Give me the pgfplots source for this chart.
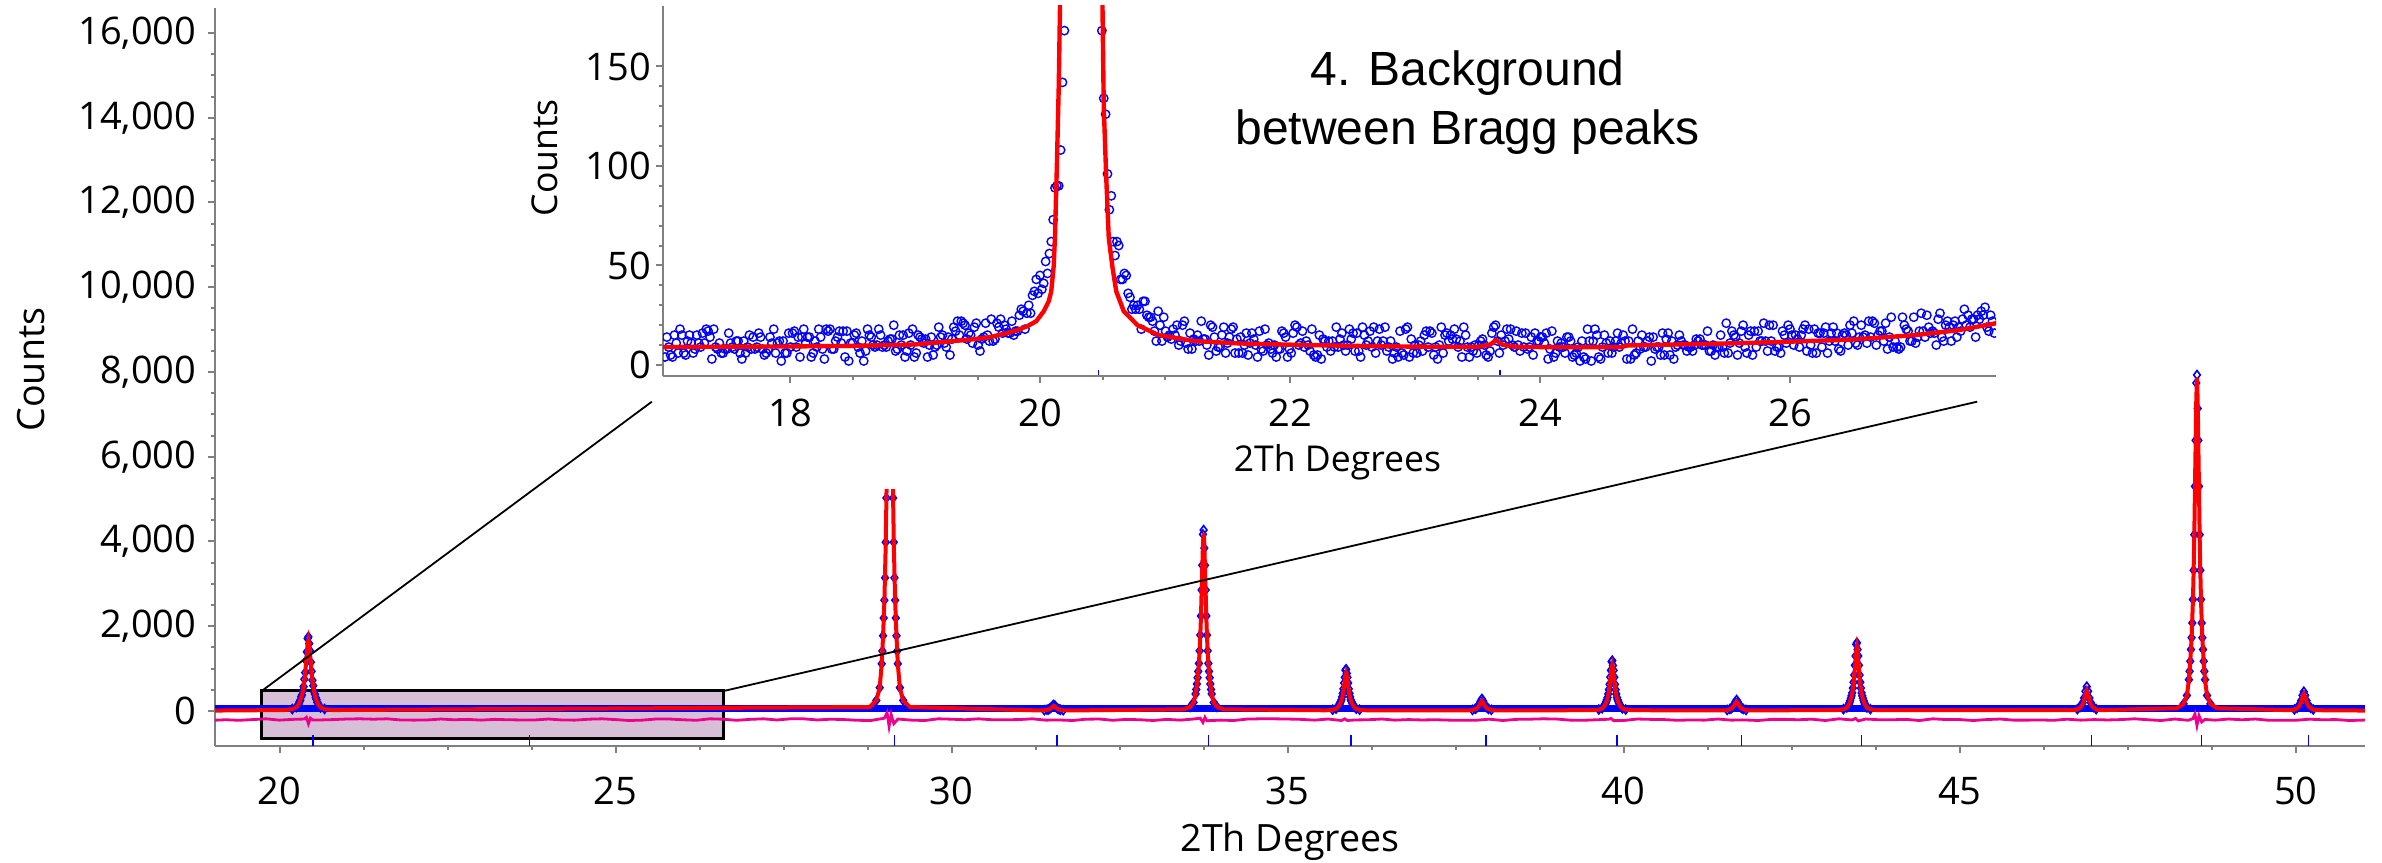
\documentclass[border=0pt]{standalone}
\usepackage{fontspec}
\setmainfont{Open Sans}
\newfontfamily\arialfont{Liberation Sans}
\usepackage{pgfplots}
\pgfplotsset{compat=1.18}
\definecolor{thistle}{RGB}{216,191,216}
\definecolor{axgray}{RGB}{128,128,128}

\begin{document}
\begin{tikzpicture}
\pgfplotsset{
  xrd/.style={
    scale only axis,
    axis x line*=bottom, axis y line*=left,
    axis line style={axgray, line width=0.5pt},
    tick style={axgray, line width=0.5pt},
    tick align=outside,
    major tick length=1.75pt, minor tick length=1pt,
    /pgf/number format/assume math mode=true,
    /pgf/number format/1000 sep={,},
    scaled ticks=false,
    tick label style={font=\fontsize{9.5}{10}\selectfont, text=black},
    clip marker paths=true,
  },
  obsmark/.style={only marks, mark=o, mark size=1.05pt, mark options={blue, line width=0.35pt}},
}

% ---- main pattern ----
\begin{axis}[xrd,
    at={(53.75pt,29.25pt)}, anchor=south west,
    width=537.5pt, height=184.5pt,
    xmin=19.04, xmax=51.03, ymin=-826, ymax=16590,
    xtick={20,25,...,50}, minor x tick num=3,
    ytick={0,2000,...,16000}, minor y tick num=3,
    xticklabel style={anchor=center, inner sep=0pt, yshift=-9.6pt},
    yticklabel style={anchor=east, inner sep=0pt, xshift=-2.7pt},
    xlabel={2Th Degrees}, ylabel={Counts},
    label style={font=\fontsize{9.4}{11}\selectfont},
    xlabel style={at={([yshift=-24pt]axis description cs:0.5,0)}, anchor=center},
    ylabel style={at={([xshift=-46pt]axis description cs:0,0.51)}, anchor=center},
]
% zoom window
\draw[fill=thistle, line width=0.75pt] (axis cs:19.735,-661) rectangle (axis cs:26.61,472);

% observed, baseline band
\addplot[blue, line width=1.7pt] coordinates {(19.04,60) (51.03,60)};

% observed, points on the peaks
\addplot[only marks, mark=diamond, mark size=1.1pt, mark options={blue, line width=0.4pt}] coordinates {
(20.19,45)(20.25,92)(20.286,165)(20.298,220)(20.31,258)(20.322,335)(20.334,380)(20.346,475)(20.358,575)(20.37,750)
(20.382,905)(20.394,1190)(20.406,1395)(20.418,1708)(20.43,1750)(20.442,1590)(20.454,1420)(20.466,1150)(20.478,935)(20.49,725)
(20.502,596)(20.514,455)(20.526,395)(20.538,320)(20.55,272)(20.562,208)(20.574,175)(20.61,84)(20.67,47)
(28.88,250)(28.93,550)(28.96,1114)(28.97,1414)(28.98,1774)(28.99,2194)(29.00,2614)(29.01,3142)(29.02,3982)(29.03,5026)
(29.04,6298)(29.05,8026)(29.06,9670)(29.07,11722)(29.08,12010)(29.09,10810)(29.10,9670)(29.11,8026)(29.12,6298)(29.13,5026)
(29.14,3982)(29.15,3142)(29.16,2614)(29.17,2194)(29.18,1774)(29.19,1414)(29.20,1114)(29.23,550)(29.28,250)
(31.38,18)(31.42,30)(31.44,39)(31.46,55)(31.48,81)(31.50,119)(31.52,145)(31.54,119)(31.56,81)(31.58,55)(31.60,39)(31.62,30)(31.66,18)
(33.55,95)(33.60,202)(33.63,402)(33.64,508)(33.65,636)(33.66,785)(33.67,934)(33.68,1122)(33.69,1420)(33.70,1791)
(33.71,2242)(33.72,2856)(33.73,3439)(33.74,4168)(33.75,4270)(33.76,3844)(33.77,3439)(33.78,2856)(33.79,2242)(33.80,1791)
(33.81,1420)(33.82,1122)(33.83,934)(33.84,785)(33.85,636)(33.86,508)(33.87,402)(33.90,202)(33.95,95)
(35.67,30)(35.72,54)(35.75,100)(35.76,124)(35.77,153)(35.78,187)(35.79,222)(35.80,264)(35.81,333)(35.82,418)
(35.83,521)(35.84,661)(35.85,795)(35.86,962)(35.87,985)(35.88,888)(35.89,795)(35.90,661)(35.91,521)(35.92,418)
(35.93,333)(35.94,264)(35.95,222)(35.96,187)(35.97,153)(35.98,124)(35.99,100)(36.02,54)(36.07,30)
(37.75,26)(37.79,50)(37.81,70)(37.83,101)(37.85,154)(37.87,231)(37.89,285)(37.91,231)(37.93,154)(37.95,101)(37.97,70)(37.99,50)(38.03,26)
(39.63,34)(39.68,63)(39.71,119)(39.72,148)(39.73,183)(39.74,225)(39.75,266)(39.76,318)(39.77,401)(39.78,503)
(39.79,628)(39.80,798)(39.81,960)(39.82,1162)(39.83,1190)(39.84,1072)(39.85,960)(39.86,798)(39.87,628)(39.88,503)
(39.89,401)(39.90,318)(39.91,266)(39.92,225)(39.93,183)(39.94,148)(39.95,119)(39.98,63)(40.03,34)
(41.54,24)(41.58,47)(41.60,64)(41.62,93)(41.64,141)(41.66,211)(41.68,260)(41.70,211)(41.72,141)(41.74,93)(41.76,64)(41.78,47)(41.82,24)
(43.27,42)(43.32,82)(43.35,157)(43.36,197)(43.37,245)(43.38,301)(43.39,357)(43.40,428)(43.41,540)(43.42,679)
(43.43,848)(43.44,1079)(43.45,1298)(43.46,1572)(43.47,1610)(43.48,1450)(43.49,1298)(43.50,1079)(43.51,848)(43.52,679)
(43.53,540)(43.54,428)(43.55,357)(43.56,301)(43.57,245)(43.58,197)(43.59,157)(43.62,82)(43.67,42)
(46.75,42)(46.79,93)(46.81,133)(46.83,197)(46.85,306)(46.87,465)(46.89,575)(46.91,465)(46.93,306)(46.95,197)(46.97,133)(46.99,93)(47.03,42)
(48.33,168)(48.38,366)(48.41,739)(48.42,937)(48.43,1174)(48.44,1451)(48.45,1729)(48.46,2077)(48.47,2632)(48.48,3321)
(48.49,4160)(48.50,5301)(48.51,6386)(48.52,7740)(48.53,7930)(48.54,7138)(48.55,6386)(48.56,5301)(48.57,4160)(48.58,3321)
(48.59,2632)(48.60,2077)(48.61,1729)(48.62,1451)(48.63,1174)(48.64,937)(48.65,739)(48.68,366)(48.73,168)
(49.98,35)(50.02,75)(50.04,107)(50.06,157)(50.08,243)(50.10,368)(50.12,455)(50.14,368)(50.16,243)(50.18,157)(50.20,107)(50.22,75)(50.26,35)
};

% calculated
\addplot[red, line width=1pt] coordinates {
(19.04,10)
(20.07,22)(20.19,43)(20.25,85)(20.286,163)(20.31,255)(20.334,371)(20.358,561)(20.37,706)(20.382,882)(20.394,1122)
(20.406,1350)(20.418,1575)(20.43,1675)(20.442,1575)(20.454,1350)(20.466,1122)(20.478,882)(20.49,706)(20.502,561)(20.526,371)
(20.55,255)(20.574,163)(20.61,85)(20.67,43)(20.79,22)
(28.78,93)(28.88,248)(28.93,546)(28.96,1105)(28.98,1759)(29.00,2592)(29.02,3949)(29.03,4984)(29.04,6246)(29.05,7959)
(29.06,9590)(29.07,11196)(29.08,11910)(29.09,11196)(29.10,9590)(29.11,7959)(29.12,6246)(29.13,4984)(29.14,3949)(29.16,2592)
(29.18,1759)(29.20,1105)(29.23,546)(29.28,248)(29.38,93)
(31.32,12)(31.37,15)(31.42,26)(31.44,34)(31.46,46)(31.48,68)(31.50,99)(31.52,120)(31.54,99)(31.56,68)(31.58,46)(31.60,34)(31.62,26)(31.67,15)(31.72,12)
(33.45,39)(33.55,94)(33.60,199)(33.63,395)(33.65,626)(33.67,919)(33.69,1397)(33.70,1761)(33.71,2206)(33.72,2809)
(33.73,3383)(33.74,3949)(33.75,4200)(33.76,3949)(33.77,3383)(33.78,2809)(33.79,2206)(33.80,1761)(33.81,1397)(33.83,919)
(33.85,626)(33.87,395)(33.90,199)(33.95,94)(34.05,39)
(35.57,16)(35.67,28)(35.72,50)(35.75,91)(35.77,140)(35.79,202)(35.81,303)(35.82,380)(35.83,474)(35.84,601)
(35.85,722)(35.86,842)(35.87,895)(35.88,842)(35.89,722)(35.90,601)(35.91,474)(35.92,380)(35.93,303)(35.95,202)
(35.97,140)(35.99,91)(36.02,50)(36.07,28)(36.17,16)
(37.69,15)(37.74,20)(37.79,44)(37.81,60)(37.83,86)(37.85,131)(37.87,195)(37.89,240)(37.91,195)(37.93,131)(37.95,86)(37.97,60)(37.99,44)(38.04,20)(38.09,15)
(39.53,18)(39.63,32)(39.68,58)(39.71,109)(39.73,168)(39.75,243)(39.77,366)(39.78,459)(39.79,573)(39.80,728)
(39.81,875)(39.82,1021)(39.83,1085)(39.84,1021)(39.85,875)(39.86,728)(39.87,573)(39.88,459)(39.89,366)(39.91,243)
(39.93,168)(39.95,109)(39.98,58)(40.03,32)(40.13,18)
(41.48,14)(41.53,19)(41.58,41)(41.60,56)(41.62,80)(41.64,120)(41.66,179)(41.68,220)(41.70,179)(41.72,120)(41.74,80)(41.76,56)(41.78,41)(41.83,19)(41.88,14)
(43.17,21)(43.27,40)(43.32,78)(43.35,148)(43.37,231)(43.39,337)(43.41,508)(43.42,639)(43.43,799)(43.44,1015)
(43.45,1222)(43.46,1425)(43.47,1515)(43.48,1425)(43.49,1222)(43.50,1015)(43.51,799)(43.52,639)(43.53,508)(43.55,337)
(43.57,231)(43.59,148)(43.62,78)(43.67,40)(43.77,21)
(46.69,19)(46.74,31)(46.79,79)(46.81,112)(46.83,166)(46.85,256)(46.87,388)(46.89,480)(46.91,388)(46.93,256)(46.95,166)(46.97,112)(46.99,79)(47.04,31)(47.09,19)
(48.23,65)(48.33,167)(48.38,363)(48.41,732)(48.43,1164)(48.45,1713)(48.47,2608)(48.48,3291)(48.49,4123)(48.50,5254)
(48.51,6329)(48.52,7389)(48.53,7860)(48.54,7389)(48.55,6329)(48.56,5254)(48.57,4123)(48.58,3291)(48.59,2608)(48.61,1713)
(48.63,1164)(48.65,732)(48.68,363)(48.73,167)(48.83,65)
(49.92,18)(49.97,28)(50.02,67)(50.04,95)(50.06,139)(50.08,214)(50.10,324)(50.12,400)(50.14,324)(50.16,214)(50.18,139)(50.20,95)(50.22,67)(50.27,28)(50.32,18)
(51.03,10)
};

% difference
\addplot[magenta, line width=0.7pt] coordinates {
(19.0,-220)(19.2,-207)(19.4,-220)(19.6,-203)(19.8,-185)(20.0,-216)(20.2,-198)
(20.37,-190)(20.40,-150)(20.43,-300)(20.46,-170)(20.50,-215)
(20.6,-212)(20.8,-203)(21.0,-190)(21.2,-185)(21.4,-194)(21.6,-185)(21.8,-212)(22.0,-216)(22.2,-212)(22.4,-190)
(22.6,-207)(22.8,-198)(23.0,-216)(23.2,-198)(23.4,-207)(23.6,-212)(23.8,-212)(24.0,-190)(24.2,-212)(24.4,-216)
(24.6,-194)(24.8,-185)(25.0,-203)(25.2,-225)(25.4,-216)(25.6,-190)(25.8,-190)(26.0,-207)(26.2,-220)(26.4,-185)
(26.6,-194)(26.8,-220)(27.0,-198)(27.2,-185)(27.4,-212)(27.6,-185)(27.8,-185)(28.0,-212)(28.2,-194)(28.4,-203)
(28.6,-220)(28.8,-225)
(29.00,-170)(29.04,-40)(29.07,-360)(29.10,-80)(29.14,-300)(29.20,-190)
(29.4,-216)(29.6,-225)(29.8,-185)(30.0,-194)(30.2,-207)(30.4,-185)(30.6,-207)(30.8,-207)(31.0,-203)(31.2,-185)
(31.4,-216)(31.6,-212)(31.8,-225)(32.0,-194)(32.2,-190)(32.4,-220)(32.6,-198)(32.8,-207)(33.0,-225)(33.2,-198)
(33.4,-216)(33.6,-190)
(33.70,-170)(33.74,-270)(33.77,-150)(33.80,-230)
(34.0,-216)(34.2,-225)(34.4,-190)(34.6,-185)(34.8,-185)(35.0,-190)(35.2,-198)(35.4,-216)(35.6,-190)(35.8,-225)
(35.85,-185)(35.89,-225)
(36.0,-212)(36.2,-207)(36.4,-190)(36.6,-216)(36.8,-203)(37.0,-212)(37.2,-207)(37.4,-216)(37.6,-220)(37.8,-220)
(38.0,-194)(38.2,-225)(38.4,-198)(38.6,-194)(38.8,-185)(39.0,-190)(39.2,-216)(39.4,-220)(39.6,-207)
(39.78,-195)(39.81,-175)(39.85,-228)
(40.0,-225)(40.2,-190)(40.4,-198)(40.6,-203)(40.8,-220)(41.0,-212)(41.2,-216)(41.4,-190)(41.6,-216)(41.8,-212)
(42.0,-225)(42.2,-198)(42.4,-198)(42.6,-207)(42.8,-194)(43.0,-225)(43.2,-185)(43.4,-212)
(43.45,-175)(43.49,-235)
(43.6,-190)(43.8,-207)(44.0,-207)(44.2,-198)(44.4,-225)(44.6,-185)(44.8,-203)(45.0,-203)(45.2,-225)(45.4,-203)
(45.6,-190)(45.8,-216)(46.0,-216)(46.2,-212)(46.4,-220)(46.6,-194)(46.8,-216)(47.0,-203)(47.2,-212)(47.4,-203)
(47.6,-185)(47.8,-207)(48.0,-225)(48.2,-190)(48.4,-220)
(48.47,-180)(48.50,-70)(48.53,-340)(48.56,-110)(48.60,-260)(48.65,-200)
(48.8,-216)(49.0,-190)(49.2,-207)(49.4,-190)(49.6,-220)(49.8,-220)(50.0,-220)(50.2,-194)(50.4,-207)(50.6,-203)
(50.8,-225)(51.0,-216)(51.2,-190)
};

% reflection positions
\addplot[only marks, mark=|, mark size=1.4pt, mark options={blue, line width=0.4pt}] coordinates {
(20.50,-696)(23.72,-696)(29.15,-696)(31.57,-696)(33.82,-696)(35.94,-696)(37.95,-696)
(39.90,-696)(41.75,-696)(43.54,-696)(46.96,-696)(48.60,-696)(50.19,-696)
};

% white area behind the inset
\fill[white] (axis cs:23.58,5239) rectangle (axis cs:45.75,17000);
% connecting lines
\draw[black, line width=0.45pt] (axis cs:19.735,472) -- (axis cs:25.54,7299);
\draw[black, line width=0.45pt] (axis cs:26.61,472) -- (axis cs:45.26,7299);
\end{axis}

% ---- inset ----
\begin{axis}[xrd,
    at={(165.75pt,121.75pt)}, anchor=south west,
    width=333.25pt, height=92.5pt,
    xmin=16.984, xmax=27.648, ymin=-5.53, ymax=180.4,
    xtick={18,20,...,26}, minor x tick num=3,
    ytick={0,50,100,150}, minor y tick num=4,
    xticklabel style={anchor=center, inner sep=0pt, yshift=-7.5pt},
    yticklabel style={anchor=east, inner sep=0pt, xshift=-1.05pt},
    xlabel={2Th Degrees}, ylabel={Counts},
    label style={font=\fontsize{8.9}{10.5}\selectfont},
    xlabel style={at={([yshift=-21.5pt]axis description cs:0.506,0)}, anchor=center},
    ylabel style={at={([xshift=-29.5pt]axis description cs:0,0.59)}, anchor=center},
]
\addplot[obsmark] coordinates {
(17.00,4)(17.03,9)(17.06,4)(17.09,11)(17.12,18)(17.15,6)(17.18,12)(17.21,11)(17.24,8)(17.27,11)
(17.30,16)(17.33,18)(17.36,14)(17.39,18)(17.42,8)(17.45,6)(17.48,8)(17.51,16)(17.54,9)(17.57,12)
(17.60,6)(17.63,12)(17.66,9)(17.69,8)(17.72,8)(17.75,16)(17.78,8)(17.81,6)(17.84,14)(17.87,18)
(17.90,11)(17.93,2)(17.96,6)(17.99,16)(18.02,16)(18.05,9)(18.08,4)(18.11,18)(18.14,14)(18.17,4)
(18.20,12)(18.23,18)(18.26,8)(18.29,18)(18.32,18)(18.35,8)(18.38,14)(18.41,11)(18.44,4)(18.47,2)
(18.50,11)(18.53,16)(18.56,6)(18.59,2)(18.62,18)(18.65,14)(18.68,9)(18.71,18)(18.74,9)(18.77,9)
(18.80,13)(18.83,20)(18.86,8)(18.89,10)(18.92,4)(18.95,16)(18.98,18)(19.01,6)(19.04,14)(19.07,11)
(19.10,4)(19.13,14)(19.16,9)(19.19,19)(19.22,15)(19.25,9)(19.28,5)(19.31,19)(19.34,22)(19.37,22)
(19.40,20)(19.43,16)(19.46,11)(19.49,21)(19.52,7)(19.55,14)(19.58,15)(19.61,23)(19.64,13)(19.67,19)
(19.70,16)(19.73,18)(19.76,16)(19.79,15)(19.82,17)(19.85,28)(19.88,18)(19.91,30)(19.94,35)(19.97,43)
(20.00,45)(20.03,41)(20.06,46)(20.09,62)(20.12,89)(20.15,90)(20.18,142)(20.21,190)(20.24,285)(20.27,460)
(20.30,860)(20.33,1560)(20.36,1590)(20.39,860)(20.42,455)(20.45,255)(20.48,188)(20.51,134)(20.54,96)(20.57,85)
(20.60,55)(20.63,60)(20.66,43)(20.69,45)(20.72,34)(20.75,30)(20.78,30)(20.81,18)(20.84,32)(20.87,24)
(20.90,22)(20.93,12)(20.96,20)(20.99,24)(21.02,14)(21.05,13)(21.08,15)(21.11,10)(21.14,20)(21.17,11)
(21.20,16)(21.23,13)(21.26,15)(21.29,22)(21.32,13)(21.35,5)(21.38,19)(21.41,7)(21.44,9)(21.47,19)
(21.50,11)(21.53,18)(21.56,6)(21.59,6)(21.62,6)(21.65,16)(21.68,11)(21.71,13)(21.74,4)(21.77,8)
(21.80,18)(21.83,11)(21.86,6)(21.89,4)(21.92,8)(21.95,16)(21.98,4)(22.01,6)(22.04,20)(22.07,10)
(22.10,17)(22.13,12)(22.16,7)(22.19,5)(22.22,5)(22.25,3)(22.28,12)(22.31,12)(22.34,12)(22.37,19)
(22.40,13)(22.43,10)(22.46,10)(22.49,13)(22.52,7)(22.55,7)(22.58,19)(22.61,10)(22.64,17)(22.67,19)
(22.70,12)(22.73,10)(22.76,19)(22.79,9)(22.82,3)(22.85,9)(22.88,17)(22.91,5)(22.94,19)(22.97,13)
(23.00,10)(23.03,10)(23.06,7)(23.09,17)(23.12,17)(23.15,5)(23.18,3)(23.21,19)(23.24,15)(23.27,12)
(23.30,13)(23.33,13)(23.36,12)(23.39,19)(23.42,9)(23.45,9)(23.48,10)(23.51,10)(23.54,13)(23.57,5)
(23.60,7)(23.63,19)(23.66,12)(23.69,15)(23.72,12)(23.75,13)(23.78,10)(23.81,17)(23.84,7)(23.87,9)
(23.90,8)(23.93,14)(23.96,16)(23.99,12)(24.02,14)(24.05,16)(24.08,8)(24.11,4)(24.14,12)(24.17,11)
(24.20,6)(24.23,14)(24.26,4)(24.29,6)(24.32,2)(24.35,4)(24.38,18)(24.41,2)(24.44,18)(24.47,4)
(24.50,9)(24.53,11)(24.56,12)(24.59,9)(24.62,16)(24.65,11)(24.68,12)(24.71,12)(24.74,18)(24.77,6)
(24.80,8)(24.83,9)(24.86,12)(24.89,2)(24.92,8)(24.95,9)(24.98,16)(25.01,13)(25.04,5)(25.07,3)
(25.10,10)(25.13,12)(25.16,10)(25.19,9)(25.22,7)(25.25,13)(25.28,13)(25.31,10)(25.34,17)(25.37,7)
(25.40,5)(25.43,9)(25.46,9)(25.49,21)(25.52,11)(25.55,15)(25.58,5)(25.61,17)(25.64,9)(25.67,15)
(25.70,5)(25.73,9)(25.76,12)(25.79,21)(25.82,7)(25.85,12)(25.88,7)(25.91,9)(25.94,17)(25.97,11)
(26.00,18)(26.03,10)(26.06,13)(26.09,15)(26.12,20)(26.15,18)(26.18,6)(26.21,6)(26.24,16)(26.27,16)
(26.30,6)(26.33,16)(26.36,12)(26.39,8)(26.42,15)(26.45,15)(26.48,20)(26.51,22)(26.54,10)(26.57,20)
(26.60,15)(26.63,22)(26.66,22)(26.69,10)(26.72,17)(26.75,12)(26.78,8)(26.81,24)(26.84,12)(26.87,8)
(26.90,24)(26.93,18)(26.96,12)(26.99,24)(27.02,14)(27.05,26)(27.08,14)(27.11,19)(27.14,17)(27.17,10)
(27.20,26)(27.23,12)(27.26,22)(27.29,12)(27.32,22)(27.35,19)(27.38,23)(27.41,20)(27.44,19)(27.47,23)
(27.50,25)(27.53,27)(27.56,29)(27.59,17)(27.62,22)(27.65,29)
};
\addplot[obsmark] coordinates {
(17.015,14)(17.045,5)(17.075,15)(17.105,6)(17.135,15)(17.165,5)(17.195,15)(17.225,6)(17.255,15)(17.285,9)
(17.315,11)(17.345,17)(17.375,3)(17.405,9)(17.435,11)(17.465,6)(17.495,8)(17.525,11)(17.555,8)(17.585,12)
(17.615,3)(17.645,6)(17.675,15)(17.705,14)(17.735,9)(17.765,14)(17.795,5)(17.825,8)(17.855,11)(17.885,6)
(17.915,12)(17.945,12)(17.975,6)(18.005,9)(18.035,17)(18.065,14)(18.095,14)(18.125,11)(18.155,14)(18.185,6)
(18.215,9)(18.245,14)(18.275,3)(18.305,17)(18.335,8)(18.365,12)(18.395,17)(18.425,17)(18.455,17)(18.485,11)
(18.515,15)(18.545,9)(18.575,12)(18.605,7)(18.635,15)(18.665,10)(18.695,10)(18.725,15)(18.755,10)(18.785,12)
(18.815,13)(18.845,7)(18.875,15)(18.905,15)(18.935,7)(18.965,10)(18.995,4)(19.025,15)(19.055,13)(19.085,13)
(19.115,10)(19.145,5)(19.175,10)(19.205,14)(19.235,11)(19.265,14)(19.295,13)(19.325,17)(19.355,15)(19.385,21)
(19.415,13)(19.445,15)(19.475,19)(19.505,10)(19.535,13)(19.565,21)(19.595,12)(19.625,12)(19.655,21)(19.685,23)
(19.715,20)(19.745,16)(19.775,22)(19.805,17)(19.835,25)(19.865,27)(19.895,26)(19.925,26)(19.955,37)(19.985,36)
(20.015,38)(20.045,52)(20.075,56)(20.105,73)(20.135,90)(20.165,108)(20.195,168)(20.225,205)(20.255,386)(20.285,630)
(20.315,1190)(20.345,1720)(20.375,1190)(20.405,628)(20.435,340)(20.465,228)(20.495,168)(20.525,126)(20.555,78)(20.585,62)
(20.615,62)(20.645,43)(20.675,46)(20.705,36)(20.735,28)(20.765,28)(20.795,28)(20.825,32)(20.855,25)(20.885,24)
(20.915,17)(20.945,27)(20.975,12)(21.005,17)(21.035,15)(21.065,18)(21.095,20)(21.125,12)(21.155,22)(21.185,8)
(21.215,8)(21.245,12)(21.275,12)(21.305,13)(21.335,10)(21.365,20)(21.395,14)(21.425,9)(21.455,15)(21.485,6)
(21.515,14)(21.545,19)(21.575,13)(21.605,14)(21.635,10)(21.665,5)(21.695,16)(21.725,10)(21.755,17)(21.785,7)
(21.815,10)(21.845,8)(21.875,10)(21.905,8)(21.935,17)(21.965,14)(21.995,8)(22.025,16)(22.055,19)(22.085,11)
(22.115,9)(22.145,10)(22.175,18)(22.205,4)(22.235,15)(22.265,13)(22.295,9)(22.325,7)(22.355,9)(22.385,9)
(22.415,16)(22.445,7)(22.475,18)(22.505,16)(22.535,16)(22.565,4)(22.595,15)(22.625,12)(22.655,9)(22.685,6)
(22.715,18)(22.745,12)(22.775,7)(22.805,12)(22.835,6)(22.865,4)(22.895,6)(22.925,18)(22.955,4)(22.985,6)
(23.015,6)(23.045,12)(23.075,15)(23.105,9)(23.135,16)(23.165,9)(23.195,10)(23.225,6)(23.255,16)(23.285,15)
(23.315,18)(23.345,9)(23.375,4)(23.405,15)(23.435,4)(23.465,7)(23.495,6)(23.525,12)(23.555,10)(23.585,4)
(23.615,16)(23.645,20)(23.675,6)(23.705,10)(23.735,18)(23.765,18)(23.795,9)(23.825,10)(23.855,16)(23.885,16)
(23.915,9)(23.945,5)(23.975,12)(24.005,14)(24.035,11)(24.065,3)(24.095,17)(24.125,6)(24.155,9)(24.185,9)
(24.215,14)(24.245,12)(24.275,5)(24.305,9)(24.335,12)(24.365,3)(24.395,12)(24.425,12)(24.455,15)(24.485,3)
(24.515,15)(24.545,6)(24.575,6)(24.605,12)(24.635,9)(24.665,15)(24.695,3)(24.725,3)(24.755,5)(24.785,12)
(24.815,15)(24.845,9)(24.875,14)(24.905,14)(24.935,9)(24.965,5)(24.995,5)(25.025,16)(25.055,12)(25.085,9)
(25.115,15)(25.145,10)(25.175,7)(25.205,9)(25.235,10)(25.265,12)(25.295,10)(25.325,10)(25.355,7)(25.385,10)
(25.415,9)(25.445,15)(25.475,6)(25.505,6)(25.535,17)(25.565,14)(25.595,11)(25.625,20)(25.655,6)(25.685,17)
(25.715,17)(25.745,17)(25.775,12)(25.805,12)(25.835,20)(25.865,20)(25.895,9)(25.925,6)(25.955,15)(25.985,20)
(26.015,15)(26.045,15)(26.075,9)(26.105,18)(26.135,7)(26.165,10)(26.195,18)(26.225,16)(26.255,9)(26.285,19)
(26.315,12)(26.345,19)(26.375,16)(26.405,7)(26.435,16)(26.465,10)(26.495,16)(26.525,11)(26.555,14)(26.585,14)
(26.615,11)(26.645,14)(26.675,21)(26.705,15)(26.735,17)(26.765,21)(26.795,14)(26.825,9)(26.855,9)(26.885,9)
(26.915,20)(26.945,17)(26.975,12)(27.005,11)(27.035,17)(27.065,17)(27.095,25)(27.125,16)(27.155,16)(27.185,23)
(27.215,14)(27.245,20)(27.275,19)(27.305,20)(27.335,14)(27.365,17)(27.395,28)(27.425,25)(27.455,23)(27.485,14)
(27.515,23)(27.545,25)(27.575,19)(27.605,25)(27.635,16)
};
\addplot[red, line width=1.1pt] coordinates {
(16.98,9)(17.50,9.2)(18.00,9.3)(18.50,9.6)(19.00,10.3)(19.25,11.7)(19.45,12.8)(19.60,14)(19.72,15.8)(19.82,17.6)
(19.90,19.5)(19.97,22)(20.03,27)(20.07,32)(20.09,37)(20.11,50)(20.12,65)(20.135,100)(20.15,140)(20.16,180)
(20.20,400)(20.26,1000)(20.33,1690)(20.40,1000)(20.46,400)(20.50,180)(20.51,130)(20.53,94)(20.55,64)(20.58,49)
(20.61,37)(20.67,27)(20.78,20)(20.95,15)(21.24,12)(21.60,10.8)(22.00,10.2)(22.50,9.6)(23.00,9.2)(23.50,9.1)
(23.60,10.2)(23.65,12.5)(23.70,10.2)(23.80,9.1)(24.20,8.9)(24.65,9)(24.70,9.8)(25.00,10.2)(25.50,10.8)(26.00,11.7)
(26.50,12.8)(27.00,15)(27.35,17.5)(27.65,21)
};
\addplot[only marks, mark=|, mark size=0.6pt, mark options={blue, line width=0.3pt}] coordinates {(20.47,-3.8)(23.68,-3.8)};
\node[font=\arialfont\fontsize{12}{14.7}\selectfont, align=center] at (axis cs:23.42,132) {4. Background\\between Bragg peaks};
\end{axis}

\pgfresetboundingbox
\useasboundingbox (0,0) rectangle (595.5pt,215.75pt);
\end{tikzpicture}
\end{document}
